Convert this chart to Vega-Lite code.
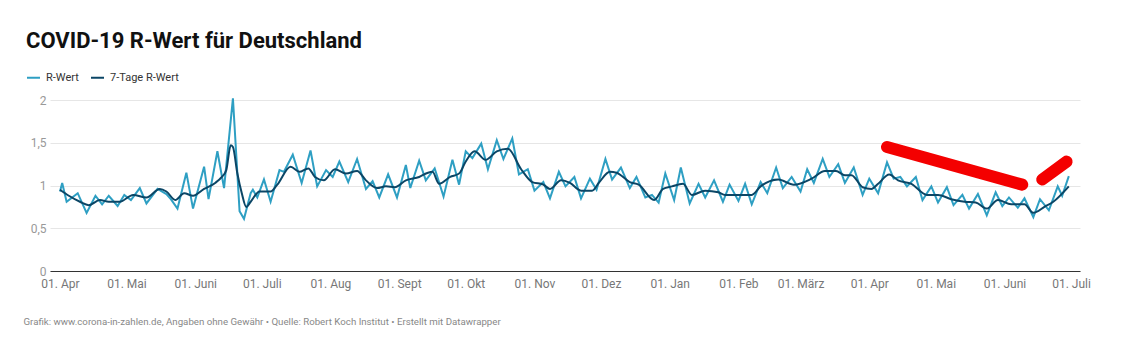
{
  "$schema": "https://vega.github.io/schema/vega-lite/v6.json",
  "width": 1030,
  "height": 171,
  "autosize": {"type": "none"},
  "padding": {"left": 50, "top": 100, "right": 41, "bottom": 90},
  "background": "white",
  "config": {"font": "Roboto", "view": {"stroke": null}},
  "title": {
    "text": "COVID-19 R-Wert für Deutschland",
    "anchor": "start",
    "frame": "group",
    "font": "Roboto",
    "fontSize": 22,
    "fontWeight": 700,
    "color": "#111111",
    "dx": -24,
    "offset": 17
  },
  "datasets": {
    "r": [
      {"datum": "2020-04-01", "reihe": "R-Wert", "wert": 0.93},
      {"datum": "2020-04-02", "reihe": "R-Wert", "wert": 1.03},
      {"datum": "2020-04-04", "reihe": "R-Wert", "wert": 0.81},
      {"datum": "2020-04-09", "reihe": "R-Wert", "wert": 0.91},
      {"datum": "2020-04-13", "reihe": "R-Wert", "wert": 0.68},
      {"datum": "2020-04-17", "reihe": "R-Wert", "wert": 0.88},
      {"datum": "2020-04-20", "reihe": "R-Wert", "wert": 0.78},
      {"datum": "2020-04-23", "reihe": "R-Wert", "wert": 0.88},
      {"datum": "2020-04-27", "reihe": "R-Wert", "wert": 0.76},
      {"datum": "2020-04-30", "reihe": "R-Wert", "wert": 0.89},
      {"datum": "2020-05-03", "reihe": "R-Wert", "wert": 0.83},
      {"datum": "2020-05-07", "reihe": "R-Wert", "wert": 0.97},
      {"datum": "2020-05-10", "reihe": "R-Wert", "wert": 0.79},
      {"datum": "2020-05-15", "reihe": "R-Wert", "wert": 0.96},
      {"datum": "2020-05-19", "reihe": "R-Wert", "wert": 0.90},
      {"datum": "2020-05-21", "reihe": "R-Wert", "wert": 0.84},
      {"datum": "2020-05-24", "reihe": "R-Wert", "wert": 0.73},
      {"datum": "2020-05-28", "reihe": "R-Wert", "wert": 1.15},
      {"datum": "2020-05-31", "reihe": "R-Wert", "wert": 0.73},
      {"datum": "2020-06-05", "reihe": "R-Wert", "wert": 1.22},
      {"datum": "2020-06-07", "reihe": "R-Wert", "wert": 0.84},
      {"datum": "2020-06-11", "reihe": "R-Wert", "wert": 1.40},
      {"datum": "2020-06-14", "reihe": "R-Wert", "wert": 0.97},
      {"datum": "2020-06-18", "reihe": "R-Wert", "wert": 2.02},
      {"datum": "2020-06-21", "reihe": "R-Wert", "wert": 0.70},
      {"datum": "2020-06-23", "reihe": "R-Wert", "wert": 0.61},
      {"datum": "2020-06-26", "reihe": "R-Wert", "wert": 0.91},
      {"datum": "2020-06-27", "reihe": "R-Wert", "wert": 0.95},
      {"datum": "2020-06-29", "reihe": "R-Wert", "wert": 0.86},
      {"datum": "2020-07-02", "reihe": "R-Wert", "wert": 1.07},
      {"datum": "2020-07-05", "reihe": "R-Wert", "wert": 0.81},
      {"datum": "2020-07-09", "reihe": "R-Wert", "wert": 1.18},
      {"datum": "2020-07-11", "reihe": "R-Wert", "wert": 1.16},
      {"datum": "2020-07-15", "reihe": "R-Wert", "wert": 1.36},
      {"datum": "2020-07-19", "reihe": "R-Wert", "wert": 1.03},
      {"datum": "2020-07-23", "reihe": "R-Wert", "wert": 1.41},
      {"datum": "2020-07-26", "reihe": "R-Wert", "wert": 0.99},
      {"datum": "2020-07-30", "reihe": "R-Wert", "wert": 1.18},
      {"datum": "2020-08-02", "reihe": "R-Wert", "wert": 1.10},
      {"datum": "2020-08-05", "reihe": "R-Wert", "wert": 1.28},
      {"datum": "2020-08-09", "reihe": "R-Wert", "wert": 1.04},
      {"datum": "2020-08-13", "reihe": "R-Wert", "wert": 1.31},
      {"datum": "2020-08-17", "reihe": "R-Wert", "wert": 0.96},
      {"datum": "2020-08-20", "reihe": "R-Wert", "wert": 1.05},
      {"datum": "2020-08-23", "reihe": "R-Wert", "wert": 0.86},
      {"datum": "2020-08-27", "reihe": "R-Wert", "wert": 1.13},
      {"datum": "2020-08-31", "reihe": "R-Wert", "wert": 0.86},
      {"datum": "2020-09-04", "reihe": "R-Wert", "wert": 1.24},
      {"datum": "2020-09-06", "reihe": "R-Wert", "wert": 0.97},
      {"datum": "2020-09-10", "reihe": "R-Wert", "wert": 1.29},
      {"datum": "2020-09-13", "reihe": "R-Wert", "wert": 1.06},
      {"datum": "2020-09-17", "reihe": "R-Wert", "wert": 1.20},
      {"datum": "2020-09-21", "reihe": "R-Wert", "wert": 0.87},
      {"datum": "2020-09-25", "reihe": "R-Wert", "wert": 1.30},
      {"datum": "2020-09-28", "reihe": "R-Wert", "wert": 1.01},
      {"datum": "2020-10-01", "reihe": "R-Wert", "wert": 1.40},
      {"datum": "2020-10-04", "reihe": "R-Wert", "wert": 1.32},
      {"datum": "2020-10-08", "reihe": "R-Wert", "wert": 1.49},
      {"datum": "2020-10-11", "reihe": "R-Wert", "wert": 1.19},
      {"datum": "2020-10-15", "reihe": "R-Wert", "wert": 1.53},
      {"datum": "2020-10-18", "reihe": "R-Wert", "wert": 1.31},
      {"datum": "2020-10-22", "reihe": "R-Wert", "wert": 1.55},
      {"datum": "2020-10-25", "reihe": "R-Wert", "wert": 1.13},
      {"datum": "2020-10-29", "reihe": "R-Wert", "wert": 1.19},
      {"datum": "2020-11-01", "reihe": "R-Wert", "wert": 0.94},
      {"datum": "2020-11-05", "reihe": "R-Wert", "wert": 1.04},
      {"datum": "2020-11-08", "reihe": "R-Wert", "wert": 0.85},
      {"datum": "2020-11-12", "reihe": "R-Wert", "wert": 1.16},
      {"datum": "2020-11-15", "reihe": "R-Wert", "wert": 0.99},
      {"datum": "2020-11-19", "reihe": "R-Wert", "wert": 1.10},
      {"datum": "2020-11-22", "reihe": "R-Wert", "wert": 0.85},
      {"datum": "2020-11-26", "reihe": "R-Wert", "wert": 1.08},
      {"datum": "2020-11-29", "reihe": "R-Wert", "wert": 0.95},
      {"datum": "2020-12-03", "reihe": "R-Wert", "wert": 1.31},
      {"datum": "2020-12-06", "reihe": "R-Wert", "wert": 1.07},
      {"datum": "2020-12-10", "reihe": "R-Wert", "wert": 1.21},
      {"datum": "2020-12-14", "reihe": "R-Wert", "wert": 0.97},
      {"datum": "2020-12-17", "reihe": "R-Wert", "wert": 1.10},
      {"datum": "2020-12-21", "reihe": "R-Wert", "wert": 0.86},
      {"datum": "2020-12-24", "reihe": "R-Wert", "wert": 0.89},
      {"datum": "2020-12-27", "reihe": "R-Wert", "wert": 0.80},
      {"datum": "2020-12-30", "reihe": "R-Wert", "wert": 1.14},
      {"datum": "2021-01-03", "reihe": "R-Wert", "wert": 0.83},
      {"datum": "2021-01-06", "reihe": "R-Wert", "wert": 1.21},
      {"datum": "2021-01-10", "reihe": "R-Wert", "wert": 0.79},
      {"datum": "2021-01-14", "reihe": "R-Wert", "wert": 1.02},
      {"datum": "2021-01-17", "reihe": "R-Wert", "wert": 0.86},
      {"datum": "2021-01-21", "reihe": "R-Wert", "wert": 1.06},
      {"datum": "2021-01-25", "reihe": "R-Wert", "wert": 0.81},
      {"datum": "2021-01-28", "reihe": "R-Wert", "wert": 1.01},
      {"datum": "2021-02-01", "reihe": "R-Wert", "wert": 0.82},
      {"datum": "2021-02-04", "reihe": "R-Wert", "wert": 1.02},
      {"datum": "2021-02-07", "reihe": "R-Wert", "wert": 0.78},
      {"datum": "2021-02-11", "reihe": "R-Wert", "wert": 1.04},
      {"datum": "2021-02-14", "reihe": "R-Wert", "wert": 0.91},
      {"datum": "2021-02-18", "reihe": "R-Wert", "wert": 1.21},
      {"datum": "2021-02-21", "reihe": "R-Wert", "wert": 0.97},
      {"datum": "2021-02-25", "reihe": "R-Wert", "wert": 1.10},
      {"datum": "2021-03-01", "reihe": "R-Wert", "wert": 0.93},
      {"datum": "2021-03-04", "reihe": "R-Wert", "wert": 1.19},
      {"datum": "2021-03-07", "reihe": "R-Wert", "wert": 1.03},
      {"datum": "2021-03-11", "reihe": "R-Wert", "wert": 1.31},
      {"datum": "2021-03-14", "reihe": "R-Wert", "wert": 1.10},
      {"datum": "2021-03-18", "reihe": "R-Wert", "wert": 1.25},
      {"datum": "2021-03-21", "reihe": "R-Wert", "wert": 1.03},
      {"datum": "2021-03-25", "reihe": "R-Wert", "wert": 1.21},
      {"datum": "2021-03-29", "reihe": "R-Wert", "wert": 0.89},
      {"datum": "2021-04-01", "reihe": "R-Wert", "wert": 1.08},
      {"datum": "2021-04-05", "reihe": "R-Wert", "wert": 0.91},
      {"datum": "2021-04-09", "reihe": "R-Wert", "wert": 1.27},
      {"datum": "2021-04-12", "reihe": "R-Wert", "wert": 1.08},
      {"datum": "2021-04-15", "reihe": "R-Wert", "wert": 1.10},
      {"datum": "2021-04-18", "reihe": "R-Wert", "wert": 0.99},
      {"datum": "2021-04-22", "reihe": "R-Wert", "wert": 1.10},
      {"datum": "2021-04-25", "reihe": "R-Wert", "wert": 0.83},
      {"datum": "2021-04-29", "reihe": "R-Wert", "wert": 0.99},
      {"datum": "2021-05-02", "reihe": "R-Wert", "wert": 0.80},
      {"datum": "2021-05-06", "reihe": "R-Wert", "wert": 0.98},
      {"datum": "2021-05-09", "reihe": "R-Wert", "wert": 0.77},
      {"datum": "2021-05-13", "reihe": "R-Wert", "wert": 0.89},
      {"datum": "2021-05-16", "reihe": "R-Wert", "wert": 0.73},
      {"datum": "2021-05-20", "reihe": "R-Wert", "wert": 0.90},
      {"datum": "2021-05-24", "reihe": "R-Wert", "wert": 0.65},
      {"datum": "2021-05-28", "reihe": "R-Wert", "wert": 0.92},
      {"datum": "2021-05-31", "reihe": "R-Wert", "wert": 0.76},
      {"datum": "2021-06-03", "reihe": "R-Wert", "wert": 0.86},
      {"datum": "2021-06-07", "reihe": "R-Wert", "wert": 0.74},
      {"datum": "2021-06-10", "reihe": "R-Wert", "wert": 0.85},
      {"datum": "2021-06-14", "reihe": "R-Wert", "wert": 0.63},
      {"datum": "2021-06-17", "reihe": "R-Wert", "wert": 0.84},
      {"datum": "2021-06-21", "reihe": "R-Wert", "wert": 0.71},
      {"datum": "2021-06-25", "reihe": "R-Wert", "wert": 0.99},
      {"datum": "2021-06-27", "reihe": "R-Wert", "wert": 0.88},
      {"datum": "2021-06-30", "reihe": "R-Wert", "wert": 1.11},

      {"datum": "2020-04-01", "reihe": "7-Tage R-Wert", "wert": 0.95},
      {"datum": "2020-04-05", "reihe": "7-Tage R-Wert", "wert": 0.88},
      {"datum": "2020-04-10", "reihe": "7-Tage R-Wert", "wert": 0.81},
      {"datum": "2020-04-14", "reihe": "7-Tage R-Wert", "wert": 0.77},
      {"datum": "2020-04-19", "reihe": "7-Tage R-Wert", "wert": 0.83},
      {"datum": "2020-04-23", "reihe": "7-Tage R-Wert", "wert": 0.81},
      {"datum": "2020-04-28", "reihe": "7-Tage R-Wert", "wert": 0.81},
      {"datum": "2020-05-04", "reihe": "7-Tage R-Wert", "wert": 0.89},
      {"datum": "2020-05-10", "reihe": "7-Tage R-Wert", "wert": 0.86},
      {"datum": "2020-05-16", "reihe": "7-Tage R-Wert", "wert": 0.96},
      {"datum": "2020-05-19", "reihe": "7-Tage R-Wert", "wert": 0.93},
      {"datum": "2020-05-23", "reihe": "7-Tage R-Wert", "wert": 0.83},
      {"datum": "2020-05-27", "reihe": "7-Tage R-Wert", "wert": 0.91},
      {"datum": "2020-05-31", "reihe": "7-Tage R-Wert", "wert": 0.88},
      {"datum": "2020-06-05", "reihe": "7-Tage R-Wert", "wert": 0.96},
      {"datum": "2020-06-10", "reihe": "7-Tage R-Wert", "wert": 1.03},
      {"datum": "2020-06-13", "reihe": "7-Tage R-Wert", "wert": 1.10},
      {"datum": "2020-06-15", "reihe": "7-Tage R-Wert", "wert": 1.18},
      {"datum": "2020-06-17", "reihe": "7-Tage R-Wert", "wert": 1.47},
      {"datum": "2020-06-18", "reihe": "7-Tage R-Wert", "wert": 1.45},
      {"datum": "2020-06-20", "reihe": "7-Tage R-Wert", "wert": 1.14},
      {"datum": "2020-06-22", "reihe": "7-Tage R-Wert", "wert": 0.91},
      {"datum": "2020-06-24", "reihe": "7-Tage R-Wert", "wert": 0.75},
      {"datum": "2020-06-26", "reihe": "7-Tage R-Wert", "wert": 0.81},
      {"datum": "2020-06-30", "reihe": "7-Tage R-Wert", "wert": 0.93},
      {"datum": "2020-07-05", "reihe": "7-Tage R-Wert", "wert": 0.93},
      {"datum": "2020-07-08", "reihe": "7-Tage R-Wert", "wert": 1.01},
      {"datum": "2020-07-14", "reihe": "7-Tage R-Wert", "wert": 1.22},
      {"datum": "2020-07-18", "reihe": "7-Tage R-Wert", "wert": 1.16},
      {"datum": "2020-07-22", "reihe": "7-Tage R-Wert", "wert": 1.20},
      {"datum": "2020-07-25", "reihe": "7-Tage R-Wert", "wert": 1.10},
      {"datum": "2020-07-29", "reihe": "7-Tage R-Wert", "wert": 1.06},
      {"datum": "2020-08-03", "reihe": "7-Tage R-Wert", "wert": 1.19},
      {"datum": "2020-08-08", "reihe": "7-Tage R-Wert", "wert": 1.14},
      {"datum": "2020-08-13", "reihe": "7-Tage R-Wert", "wert": 1.17},
      {"datum": "2020-08-17", "reihe": "7-Tage R-Wert", "wert": 1.06},
      {"datum": "2020-08-22", "reihe": "7-Tage R-Wert", "wert": 0.97},
      {"datum": "2020-08-26", "reihe": "7-Tage R-Wert", "wert": 0.99},
      {"datum": "2020-08-30", "reihe": "7-Tage R-Wert", "wert": 0.98},
      {"datum": "2020-09-04", "reihe": "7-Tage R-Wert", "wert": 1.06},
      {"datum": "2020-09-10", "reihe": "7-Tage R-Wert", "wert": 1.10},
      {"datum": "2020-09-14", "reihe": "7-Tage R-Wert", "wert": 1.15},
      {"datum": "2020-09-16", "reihe": "7-Tage R-Wert", "wert": 1.16},
      {"datum": "2020-09-19", "reihe": "7-Tage R-Wert", "wert": 1.02},
      {"datum": "2020-09-24", "reihe": "7-Tage R-Wert", "wert": 1.10},
      {"datum": "2020-09-28", "reihe": "7-Tage R-Wert", "wert": 1.14},
      {"datum": "2020-10-01", "reihe": "7-Tage R-Wert", "wert": 1.28},
      {"datum": "2020-10-05", "reihe": "7-Tage R-Wert", "wert": 1.40},
      {"datum": "2020-10-10", "reihe": "7-Tage R-Wert", "wert": 1.30},
      {"datum": "2020-10-15", "reihe": "7-Tage R-Wert", "wert": 1.40},
      {"datum": "2020-10-20", "reihe": "7-Tage R-Wert", "wert": 1.43},
      {"datum": "2020-10-26", "reihe": "7-Tage R-Wert", "wert": 1.19},
      {"datum": "2020-10-31", "reihe": "7-Tage R-Wert", "wert": 1.04},
      {"datum": "2020-11-05", "reihe": "7-Tage R-Wert", "wert": 1.01},
      {"datum": "2020-11-08", "reihe": "7-Tage R-Wert", "wert": 0.96},
      {"datum": "2020-11-13", "reihe": "7-Tage R-Wert", "wert": 1.06},
      {"datum": "2020-11-17", "reihe": "7-Tage R-Wert", "wert": 1.03},
      {"datum": "2020-11-22", "reihe": "7-Tage R-Wert", "wert": 0.94},
      {"datum": "2020-11-27", "reihe": "7-Tage R-Wert", "wert": 0.94},
      {"datum": "2020-11-30", "reihe": "7-Tage R-Wert", "wert": 1.03},
      {"datum": "2020-12-05", "reihe": "7-Tage R-Wert", "wert": 1.16},
      {"datum": "2020-12-08", "reihe": "7-Tage R-Wert", "wert": 1.15},
      {"datum": "2020-12-14", "reihe": "7-Tage R-Wert", "wert": 1.04},
      {"datum": "2020-12-18", "reihe": "7-Tage R-Wert", "wert": 1.01},
      {"datum": "2020-12-25", "reihe": "7-Tage R-Wert", "wert": 0.83},
      {"datum": "2020-12-29", "reihe": "7-Tage R-Wert", "wert": 0.96},
      {"datum": "2021-01-02", "reihe": "7-Tage R-Wert", "wert": 0.99},
      {"datum": "2021-01-07", "reihe": "7-Tage R-Wert", "wert": 1.02},
      {"datum": "2021-01-11", "reihe": "7-Tage R-Wert", "wert": 0.89},
      {"datum": "2021-01-17", "reihe": "7-Tage R-Wert", "wert": 0.94},
      {"datum": "2021-01-23", "reihe": "7-Tage R-Wert", "wert": 0.92},
      {"datum": "2021-01-26", "reihe": "7-Tage R-Wert", "wert": 0.89},
      {"datum": "2021-02-07", "reihe": "7-Tage R-Wert", "wert": 0.89},
      {"datum": "2021-02-11", "reihe": "7-Tage R-Wert", "wert": 0.99},
      {"datum": "2021-02-19", "reihe": "7-Tage R-Wert", "wert": 1.07},
      {"datum": "2021-02-26", "reihe": "7-Tage R-Wert", "wert": 1.01},
      {"datum": "2021-03-06", "reihe": "7-Tage R-Wert", "wert": 1.08},
      {"datum": "2021-03-12", "reihe": "7-Tage R-Wert", "wert": 1.17},
      {"datum": "2021-03-17", "reihe": "7-Tage R-Wert", "wert": 1.17},
      {"datum": "2021-03-21", "reihe": "7-Tage R-Wert", "wert": 1.12},
      {"datum": "2021-03-24", "reihe": "7-Tage R-Wert", "wert": 1.12},
      {"datum": "2021-03-29", "reihe": "7-Tage R-Wert", "wert": 0.98},
      {"datum": "2021-04-02", "reihe": "7-Tage R-Wert", "wert": 0.96},
      {"datum": "2021-04-05", "reihe": "7-Tage R-Wert", "wert": 1.02},
      {"datum": "2021-04-10", "reihe": "7-Tage R-Wert", "wert": 1.13},
      {"datum": "2021-04-14", "reihe": "7-Tage R-Wert", "wert": 1.06},
      {"datum": "2021-04-20", "reihe": "7-Tage R-Wert", "wert": 1.02},
      {"datum": "2021-04-27", "reihe": "7-Tage R-Wert", "wert": 0.89},
      {"datum": "2021-05-02", "reihe": "7-Tage R-Wert", "wert": 0.89},
      {"datum": "2021-05-08", "reihe": "7-Tage R-Wert", "wert": 0.84},
      {"datum": "2021-05-14", "reihe": "7-Tage R-Wert", "wert": 0.81},
      {"datum": "2021-05-19", "reihe": "7-Tage R-Wert", "wert": 0.80},
      {"datum": "2021-05-24", "reihe": "7-Tage R-Wert", "wert": 0.73},
      {"datum": "2021-05-29", "reihe": "7-Tage R-Wert", "wert": 0.83},
      {"datum": "2021-06-04", "reihe": "7-Tage R-Wert", "wert": 0.78},
      {"datum": "2021-06-10", "reihe": "7-Tage R-Wert", "wert": 0.78},
      {"datum": "2021-06-14", "reihe": "7-Tage R-Wert", "wert": 0.68},
      {"datum": "2021-06-19", "reihe": "7-Tage R-Wert", "wert": 0.75},
      {"datum": "2021-06-23", "reihe": "7-Tage R-Wert", "wert": 0.81},
      {"datum": "2021-06-30", "reihe": "7-Tage R-Wert", "wert": 0.99}
    ],
    "anmerkung": [
      {"datum": "2021-04-09", "wert": 1.45, "strich": 1},
      {"datum": "2021-06-09", "wert": 1.01, "strich": 1},
      {"datum": "2021-06-18", "wert": 1.07, "strich": 2},
      {"datum": "2021-06-29", "wert": 1.28, "strich": 2}
    ]
  },
  "layer": [
    {
      "data": {"name": "r"},
      "transform": [{"filter": "datum.reihe === 'R-Wert'"}],
      "mark": {"type": "line", "strokeWidth": 2, "interpolate": "linear", "clip": false},
      "encoding": {
        "x": {
          "field": "datum",
          "type": "temporal",
          "scale": {
            "type": "utc",
            "domain": [
              {"year": 2020, "month": 3, "date": 27, "hours": 12, "utc": true},
              {"year": 2021, "month": 7, "date": 5, "hours": 1, "utc": true}
            ]
          },
          "axis": {
            "tickCount": {"interval": "month", "step": 1},
            "labelExpr": "'01. ' + ['Jan','Feb','März','Apr','Mai','Juni','Juli','Aug','Sept','Okt','Nov','Dez'][utcmonth(datum.value)]",
            "grid": false,
            "ticks": false,
            "domainColor": "#333333",
            "domainWidth": 1,
            "labelColor": "#777777",
            "labelFontSize": 12,
            "labelFont": "Roboto",
            "labelPadding": 7,
            "labelFlush": false,
            "labelOverlap": false,
            "title": "Grafik: www.corona-in-zahlen.de, Angaben ohne Gewähr • Quelle: Robert Koch Institut • Erstellt mit Datawrapper",
            "titleAnchor": "start",
            "titleAlign": "left",
            "titleBaseline": "middle",
            "titleX": -27,
            "titleY": 50,
            "titleFont": "Roboto",
            "titleFontSize": 9.7,
            "titleFontWeight": "normal",
            "titleColor": "#888888"
          }
        },
        "y": {
          "field": "wert",
          "type": "quantitative",
          "scale": {"domain": [0, 2], "nice": false},
          "axis": {
            "values": [0, 0.5, 1, 1.5, 2],
            "labelExpr": "replace(format(datum.value, '~g'), '.', ',')",
            "grid": true,
            "gridColor": "#e6e6e6",
            "domain": false,
            "ticks": false,
            "labelColor": "#999999",
            "labelFontSize": 12,
            "labelFont": "Roboto",
            "labelPadding": 4,
            "title": null
          }
        },
        "color": {
          "field": "reihe",
          "type": "nominal",
          "scale": {"domain": ["R-Wert", "7-Tage R-Wert"], "range": ["#2e9fc3", "#0b4666"]},
          "legend": {
            "orient": "none",
            "legendX": -24,
            "legendY": -30,
            "direction": "horizontal",
            "title": null,
            "symbolType": "stroke",
            "symbolStrokeWidth": 2,
            "symbolSize": 169,
            "labelFontSize": 11,
            "labelFont": "Roboto",
            "labelColor": "#333333",
            "labelOffset": 5,
            "columnPadding": 8
          }
        }
      }
    },
    {
      "data": {"name": "r"},
      "transform": [{"filter": "datum.reihe === '7-Tage R-Wert'"}],
      "mark": {"type": "line", "strokeWidth": 2, "interpolate": "monotone", "clip": false},
      "encoding": {
        "x": {"field": "datum", "type": "temporal"},
        "y": {"field": "wert", "type": "quantitative"},
        "color": {"field": "reihe", "type": "nominal"}
      }
    },
    {
      "data": {"name": "anmerkung"},
      "mark": {"type": "line", "strokeWidth": 12, "strokeCap": "round", "color": "#f40000", "clip": false},
      "encoding": {
        "x": {"field": "datum", "type": "temporal"},
        "y": {"field": "wert", "type": "quantitative"},
        "detail": {"field": "strich", "type": "nominal"}
      }
    }
  ]
}
